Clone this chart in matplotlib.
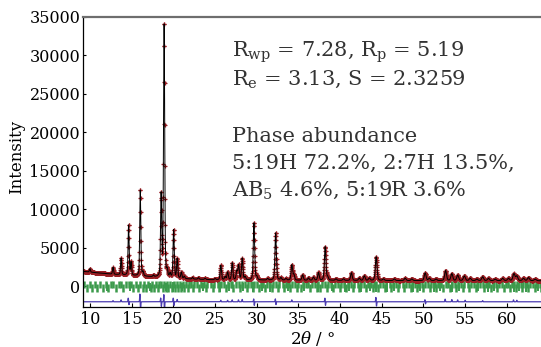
import numpy as np
import matplotlib
matplotlib.use("Agg")
import matplotlib.pyplot as plt

plt.rcParams['font.family'] = ['DejaVu Serif']
plt.rcParams['mathtext.fontset'] = 'dejavuserif'
plt.rcParams['mathtext.default'] = 'regular'

# ---------------- data ----------------
# observed peaks: position (2theta, deg) and height above background (counts)
peak_pos = [9.98, 12.75, 13.72, 14.62, 14.92, 16.02, 16.35, 17.6, 18.52, 18.88,
            19.25, 19.6, 20.02, 20.45, 20.95, 21.3, 22.3, 23.0, 23.8, 25.0,
            25.68, 26.2, 26.5, 27.05, 27.6, 27.82, 28.25, 28.6, 29.66, 30.0,
            31.3, 32.26, 32.9, 33.5, 34.2, 34.45, 35.5, 36.2, 36.8, 37.4,
            38.2, 38.5, 39.5, 40.4, 41.35, 42.3, 42.9, 43.5, 44.32, 45.2,
            46.5, 47.8, 48.6, 50.2, 50.7, 51.5, 52.65, 53.4, 54.1, 54.9,
            55.6, 56.4, 57.1, 57.8, 58.6, 59.5, 60.2, 60.85, 61.2, 62.0,
            62.6, 63.4]
peak_height = [450, 900, 2200, 6600, 1700, 11300, 500, 200, 10700, 33200,
               800, 500, 6300, 2500, 800, 300, 200, 200, 150, 150,
               1900, 400, 1000, 2200, 1100, 1900, 2800, 400, 7500, 400,
               200, 6200, 300, 200, 2000, 700, 700, 300, 400, 1000,
               4400, 400, 200, 200, 1000, 300, 600, 300, 3100, 200,
               200, 300, 200, 1000, 300, 200, 1300, 900, 700, 600,
               300, 200, 500, 300, 200, 300, 300, 900, 600, 300,
               400, 200]
# background knots
bg_pos = [9.15, 11, 13, 15, 17, 19, 22, 25, 30, 40, 50, 64.2]
bg_val = [1900, 1700, 1500, 1350, 1200, 1050, 900, 800, 760, 720, 700, 680]

# difference curve features: position and amplitude
diff_pos = [12.75, 13.72, 14.58, 14.66, 15.98, 16.05, 18.47, 18.55, 18.85, 18.92,
            19.98, 20.06, 20.45, 25.68, 26.5, 27.05, 27.8, 28.25, 29.63, 29.70,
            32.23, 32.30, 34.2, 38.17, 38.24, 44.29, 44.36, 50.18, 50.24, 52.6,
            53.4, 54.1, 55.0, 57.1, 60.8, 61.2]
diff_amp = [150, 250, 500, -400, 1100, -1300, 500, -600, 1000, -1200,
            500, -500, 300, 200, 200, 250, 250, 300, 400, -500,
            400, -400, 250, 500, -500, 600, -600, 300, -300, 350,
            300, 250, 200, 150, 250, 200]
diff_offset = -2050

# Bragg reflection positions per phase
bragg_519H = [9.3, 9.95, 10.55, 11.2, 11.9, 12.5, 12.75, 13.45, 13.72, 14.3,
              14.62, 14.92, 15.5, 16.02, 16.5, 17.0, 17.45, 17.9, 18.3, 18.52,
              18.88, 19.25, 19.6, 20.02, 20.45, 20.8, 21.15, 21.5, 21.85,
              22.1, 22.5, 22.85, 23.3, 23.7, 24.05, 24.5, 24.9, 25.3, 25.68,
              26.05, 26.5, 26.85, 27.05, 27.45, 27.82, 28.25, 28.6, 29.0, 29.35,
              29.66, 30.05, 30.45, 30.8, 31.2, 31.6, 31.95, 32.26, 32.7, 33.1,
              33.5, 33.85, 34.2, 34.6, 35.0, 35.5, 35.85, 36.2, 36.6, 36.95,
              37.4, 37.8, 38.2, 38.55, 38.95, 39.35, 39.75, 40.1, 40.5, 40.9,
              41.35, 41.7, 42.1, 42.5, 42.9, 43.3, 43.7, 44.05, 44.32, 44.75,
              45.15, 45.55, 45.95, 46.3, 46.7, 47.1, 47.5, 47.85, 48.25, 48.6,
              49.0, 49.4, 49.8, 50.2, 50.55, 50.95, 51.35, 51.75, 52.15, 52.65,
              53.0, 53.4, 53.75, 54.1, 54.5, 54.9, 55.3, 55.65, 56.05, 56.4,
              56.8, 57.1, 57.5, 57.9, 58.3, 58.65, 59.05, 59.45, 59.85, 60.2,
              60.6, 60.85, 61.25, 61.65, 62.0, 62.4, 62.8, 63.15, 63.55, 63.95]
bragg_27H = [9.6, 10.2, 10.8, 11.5, 12.2, 13.1, 14.0, 15.2, 15.8, 16.3,
             16.75, 17.25, 17.7, 18.1, 18.7, 19.05, 19.4, 19.8, 20.2, 20.6,
             20.95, 21.3, 21.7,
             22.3, 23.1, 23.9, 24.7, 25.5, 26.3, 27.2, 28.0, 28.8, 29.5,
             30.25, 31.0, 31.8, 32.5, 33.3, 34.0, 34.8, 35.3, 36.4, 37.2,
             37.6, 38.4, 39.15, 39.95, 40.7, 41.5, 42.3, 43.1, 43.9, 44.55,
             45.35, 46.1, 46.9, 47.7, 48.45, 49.2, 50.0, 50.75, 51.55, 52.4,
             53.2, 53.95, 54.7, 55.5, 56.25, 57.3, 58.1, 58.85, 59.65, 60.4,
             61.05, 61.85, 62.6, 63.35, 64.1]
bragg_AB5 = [20.0, 25.6, 29.5, 31.6, 37.4, 40.6, 42.5, 44.3, 45.6, 48.7,
             51.3, 53.4, 57.8, 60.9, 62.3]
bragg_519R = [12.0, 14.8, 17.2, 19.1, 21.0, 23.5, 26.7, 28.4, 30.6, 33.7,
              35.7, 39.0, 41.1, 43.6, 46.5, 49.6, 52.0, 54.3, 56.6, 58.5,
              61.5, 63.7]

x_ticks = [10, 15, 20, 25, 30, 35, 40, 45, 50, 55, 60]
y_ticks = [0, 5000, 10000, 15000, 20000, 25000, 30000, 35000]

text_lines = [r"R$_{\mathrm{wp}}$ = 7.28, R$_{\mathrm{p}}$ = 5.19",
              r"R$_{\mathrm{e}}$ = 3.13, S = 2.3259",
              "Phase abundance",
              "5:19H 72.2%, 2:7H 13.5%,",
              r"AB$_{5}$ 4.6%, 5:19R 3.6%"]

# ---------------- build profile ----------------
two_theta = np.arange(9.15, 64.2, 0.02)
background = np.interp(two_theta, bg_pos, bg_val)
calc = background.copy()
for p, h in zip(peak_pos, peak_height):
    w = 0.045 + 0.0012 * p
    calc += h * (0.7 * np.exp(-0.5 * ((two_theta - p) / w) ** 2)
                 + 0.3 / (1 + ((two_theta - p) / (1.3 * w)) ** 2))
obs = calc.copy()
diff = np.full_like(two_theta, diff_offset, dtype=float)
for p, a in zip(diff_pos, diff_amp):
    diff += a * np.exp(-0.5 * ((two_theta - p) / 0.03) ** 2)

# ---------------- figure ----------------
W, H = 541, 347
fig = plt.figure(figsize=(W / 100, H / 100), dpi=100)
ax = fig.add_axes([83 / W, 1 - 307 / H, 1 - 83 / W, (307 - 17) / H])

green = '#3c9a4c'
ax.vlines(bragg_519H, -300, 600, color=green, lw=1.8)
ax.vlines(bragg_27H, -800, 250, color=green, lw=1.8)
ax.vlines(bragg_AB5, -800, 550, color=green, lw=1.4)
ax.vlines(bragg_519R, -600, 400, color=green, lw=1.4)

ax.plot(two_theta, obs, ls='none', marker='+', ms=3.4, mew=0.9, color='#9a1f24')
ax.plot(two_theta, calc, color='black', lw=0.7)
ax.plot(two_theta, diff, color='#4a3bb0', lw=0.9)

ax.set_xlim(9.15, 64.1)
ax.set_ylim(-2730, 35000)
ax.set_xticks(x_ticks)
ax.set_yticks(y_ticks)
ax.tick_params(axis='x', direction='in', length=3, labelsize=11.5, pad=3)
ax.tick_params(axis='y', direction='in', length=2, labelsize=11.5, pad=2)
for s in ['left', 'bottom']:
    ax.spines[s].set_color('black')
    ax.spines[s].set_linewidth(0.9)
ax.spines['top'].set_color('#6e6e6e')
ax.spines['top'].set_linewidth(1.6)
ax.spines['right'].set_visible(False)

fig.text(17 / W, 1 - 157 / H, 'Intensity', rotation=90, ha='center', va='center', fontsize=12)
fig.text(313 / W, 1 - 339 / H, r'2$\mathit{\theta}$ / °', ha='center', va='center', fontsize=12)

baselines = [57, 85, 142, 169, 196]
for t, b in zip(text_lines, baselines):
    fig.text(232 / W, 1 - b / H, t, ha='left', va='baseline', fontsize=15, color='#333333')

fig.savefig('out.png', dpi=100)
